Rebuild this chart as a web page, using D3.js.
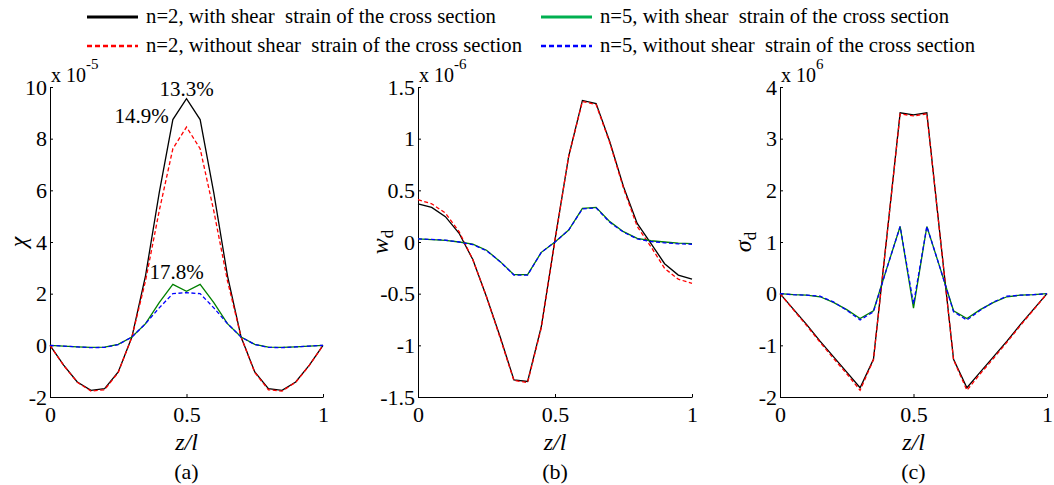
<!DOCTYPE html>
<html>
<head>
<meta charset="utf-8">
<script src="https://cdn.jsdelivr.net/npm/d3@7/dist/d3.min.js"></script>
<style>
  body { margin: 0; background: #fff; }
  svg { display: block; font-family: "Liberation Serif", "Times New Roman", serif; }
  .axis path, .axis line { stroke: #000; stroke-width: 1; }
  .axis text { font-family: "Liberation Serif", "Times New Roman", serif; font-size: 22px; fill: #000; }
  .legend text { font-size: 20px; white-space: pre; }
</style>
</head>
<body>
<div id="chart"></div>
<script>
const width = 1054;
const height = 485;

/* DATA */
const zl = [0, 0.05, 0.1, 0.15, 0.2, 0.25, 0.3, 0.35, 0.4, 0.45, 0.5,
  0.55, 0.6, 0.65, 0.7, 0.75, 0.8, 0.85, 0.9, 0.95, 1];

const seriesNames = [
  'n=2, with shear  strain of the cross section',
  'n=2, without shear  strain of the cross section',
  'n=5, with shear  strain of the cross section',
  'n=5, without shear  strain of the cross section',
];

// (a) chi, x 10^-5
const chiN2With = [0, -0.77, -1.42, -1.74, -1.68, -1.03, 0.32, 2.7, 5.9, 8.74, 9.55,
  8.74, 5.9, 2.7, 0.32, -1.03, -1.68, -1.74, -1.42, -0.77, 0];
const chiN2Without = [0, -0.78, -1.43, -1.77, -1.72, -1.05, 0.32, 2.5, 5.2, 7.61, 8.45,
  7.61, 5.2, 2.5, 0.32, -1.05, -1.72, -1.77, -1.43, -0.78, 0];
const chiN5With = [0, -0.03, -0.06, -0.08, -0.07, 0.04, 0.32, 0.84, 1.65, 2.36, 2.09,
  2.36, 1.65, 0.84, 0.32, 0.04, -0.07, -0.08, -0.06, -0.03, 0];
const chiN5Without = [0, -0.03, -0.06, -0.09, -0.08, 0.03, 0.32, 0.84, 1.45, 2.0, 2.04,
  2.0, 1.45, 0.84, 0.32, 0.03, -0.08, -0.09, -0.06, -0.03, 0];

// (b) w_d, x 10^-6
const wN2With = [0.37, 0.335, 0.245, 0.084, -0.17, -0.53, -0.92, -1.335, -1.35, -0.82, 0.02,
  0.83, 1.37, 1.34, 0.97, 0.535, 0.18, -0.013, -0.21, -0.32, -0.36];
const wN2Without = [0.41, 0.37, 0.28, 0.1, -0.17, -0.53, -0.93, -1.34, -1.36, -0.83, 0.02,
  0.83, 1.36, 1.33, 0.96, 0.52, 0.15, -0.045, -0.255, -0.36, -0.4];
const wN5With = [0.03, 0.023, 0.016, 0.0, -0.02, -0.08, -0.19, -0.316, -0.316, -0.1, 0,
  0.116, 0.326, 0.335, 0.197, 0.1, 0.035, 0.012, 0.0, -0.01, -0.015];
const wN5Without = [0.03, 0.025, 0.018, 0.0, -0.025, -0.085, -0.19, -0.32, -0.32, -0.1, 0,
  0.116, 0.32, 0.33, 0.19, 0.095, 0.03, 0.005, -0.008, -0.018, -0.022];

// (c) sigma_d, x 10^6
const sigN2With = [0, -0.3, -0.6, -0.92, -1.22, -1.52, -1.82, -1.27, 1.1, 3.5, 3.46,
  3.5, 1.1, -1.27, -1.82, -1.52, -1.22, -0.92, -0.6, -0.3, 0];
const sigN2Without = [0, -0.31, -0.62, -0.94, -1.25, -1.55, -1.87, -1.28, 1.1, 3.48, 3.44,
  3.48, 1.1, -1.28, -1.87, -1.55, -1.25, -0.94, -0.62, -0.31, 0];
const sigN5With = [0, -0.02, -0.03, -0.06, -0.17, -0.31, -0.48, -0.33, 0.49, 1.3, -0.28,
  1.3, 0.49, -0.33, -0.48, -0.31, -0.17, -0.06, -0.03, -0.02, 0];
const sigN5Without = [0, -0.02, -0.03, -0.05, -0.16, -0.32, -0.51, -0.35, 0.49, 1.3, -0.2,
  1.3, 0.49, -0.35, -0.51, -0.32, -0.16, -0.05, -0.03, -0.02, 0];

const xTicks = [0, 0.5, 1];
const chiTicks = [-2, 0, 2, 4, 6, 8, 10];
const wTicks = [-1.5, -1, -0.5, 0, 0.5, 1, 1.5];
const sigTicks = [-2, -1, 0, 1, 2, 3, 4];

const chiNotes = ['13.3%', '14.9%', '17.8%'];

/* LAYOUT */
const plotTop = 87;
const plotBottom = 397;

const styles = [
  { color: '#000000', dash: null },
  { color: '#ff0000', dash: '4,2.5' },
  { color: '#008000', dash: null },
  { color: '#0000ff', dash: '4,2.5' },
];

const panels = [
  { tag: '(a)', x0: 50, x1: 323, domain: [-2, 10], ticks: chiTicks, exp: '-5', ylab: 'chi', labX: 18,
    data: [chiN2With, chiN2Without, chiN5With, chiN5Without] },
  { tag: '(b)', x0: 418, x1: 692, domain: [-1.5, 1.5], ticks: wTicks, exp: '-6', ylab: 'w', labX: 380,
    data: [wN2With, wN2Without, wN5With, wN5Without] },
  { tag: '(c)', x0: 780, x1: 1047, domain: [-2, 4], ticks: sigTicks, exp: '6', ylab: 'sigma', labX: 743,
    data: [sigN2With, sigN2Without, sigN5With, sigN5Without] },
];

const svg = d3.select('#chart')
  .append('svg')
  .attr('width', width)
  .attr('height', height);

panels.forEach((p) => {
  const x = d3.scaleLinear().domain([0, 1]).range([p.x0, p.x1]);
  const y = d3.scaleLinear().domain(p.domain).range([plotBottom, plotTop]);
  const g = svg.append('g');

  g.append('g')
    .attr('class', 'axis')
    .attr('transform', `translate(0, ${plotBottom})`)
    .call(d3.axisBottom(x).tickValues(xTicks).tickFormat(d => String(d))
      .tickSizeInner(-3).tickSizeOuter(0).tickPadding(9));

  g.append('g')
    .attr('class', 'axis')
    .attr('transform', `translate(${p.x0}, 0)`)
    .call(d3.axisLeft(y).tickValues(p.ticks).tickFormat(d => String(d))
      .tickSizeInner(-3).tickSizeOuter(0).tickPadding(3));

  // lines, drawn in legend order so the dashed ones sit on top
  const line = d3.line()
    .x((d, i) => x(zl[i]))
    .y(d => y(d));
  p.data.forEach((vals, i) => {
    g.append('path')
      .datum(vals)
      .attr('fill', 'none')
      .attr('stroke', styles[i].color)
      .attr('stroke-width', 1.3)
      .attr('stroke-dasharray', styles[i].dash)
      .attr('d', line);
  });

  // exponent
  const ex = g.append('text')
    .attr('x', p.x0 + 1)
    .attr('y', 82)
    .style('font-size', '20px')
    .text('x 10');
  ex.append('tspan')
    .attr('dy', -13)
    .style('font-size', '15px')
    .text(p.exp);

  // y label
  const yl = g.append('text')
    .attr('transform', `translate(${p.labX}, 242) rotate(-90)`)
    .attr('text-anchor', 'middle')
    .attr('dy', '0.35em')
    .style('font-size', '24px');
  if (p.ylab === 'chi') {
    yl.style('font-style', 'italic').text('χ');
  } else {
    yl.append('tspan').style('font-style', 'italic').text(p.ylab === 'w' ? 'w' : 'σ');
    yl.append('tspan').attr('dy', 5).style('font-size', '17px').text('d');
  }

  // x label and panel tag
  g.append('text')
    .attr('x', x(0.5))
    .attr('y', 450)
    .attr('text-anchor', 'middle')
    .style('font-size', '24px')
    .style('font-style', 'italic')
    .text('z/l');

  g.append('text')
    .attr('x', x(0.5))
    .attr('y', 479)
    .attr('text-anchor', 'middle')
    .style('font-size', '22px')
    .text(p.tag);

  if (p.ylab === 'chi') {
    g.append('text')
      .attr('x', x(0.5)).attr('y', y(9.55) - 3)
      .attr('text-anchor', 'middle').style('font-size', '21px')
      .text(chiNotes[0]);
    g.append('text')
      .attr('x', x(0.45) - 4).attr('y', y(8.74) + 3)
      .attr('text-anchor', 'end').style('font-size', '21px')
      .text(chiNotes[1]);
    g.append('text')
      .attr('x', x(0.5) - 10).attr('y', y(2.36) - 5)
      .attr('text-anchor', 'middle').style('font-size', '21px')
      .text(chiNotes[2]);
  }
});

/* LEGEND */
const legendItems = [
  { x: 87, y: 17, w: 350 },
  { x: 87, y: 46, w: 376 },
  { x: 541, y: 17, w: 349 },
  { x: 541, y: 46, w: 375 },
];
const legendColors = ['#000000', '#ff0000', '#00b050', '#0000ff'];

const legend = svg.append('g').attr('class', 'legend');
legendItems.forEach((it, i) => {
  legend.append('line')
    .attr('x1', it.x).attr('x2', it.x + 51)
    .attr('y1', it.y).attr('y2', it.y)
    .attr('stroke', legendColors[i])
    .attr('stroke-width', i % 2 === 0 ? 3 : 2.5)
    .attr('stroke-dasharray', i % 2 === 0 ? null : '5,3');
  legend.append('text')
    .attr('x', it.x + 59)
    .attr('y', it.y + 6)
    .attr('textLength', it.w)
    .attr('lengthAdjust', 'spacingAndGlyphs')
    .text(seriesNames[i]);
});
</script>
</body>
</html>
